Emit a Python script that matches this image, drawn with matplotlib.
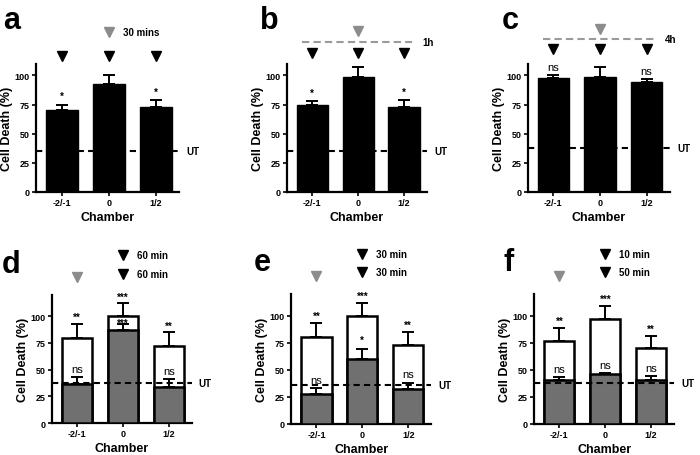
import matplotlib
matplotlib.use("Agg")
import matplotlib.pyplot as plt
import matplotlib.transforms as mtransforms
import numpy as np

plt.rcParams['font.family'] = ['Liberation Sans', 'DejaVu Sans']
plt.rcParams['font.weight'] = 'bold'

#%% DATA ---------------------------------------------------------------------
chambers = ['-2/-1', '0', '1/2']

# top row: single black bars
a_mean = [70, 93, 73]
a_err = [5, 7, 6]
b_mean = [75, 99, 73]
b_err = [3, 8, 6]
c_mean = [98, 99, 94]
c_err = [2, 8, 2.5]
ut_top = [35, 35, 38]
a_sig = ['*', '', '*']
b_sig = ['*', '', '*']
c_sig = ['ns', '', 'ns']

# bottom row: white (total) and grey (inhibited) bars
d_white = [80, 100, 72]
d_werr = [13, 12, 13]
d_gray = [37, 87, 34]
d_gerr = [6, 6, 7]
e_white = [80, 100, 73]
e_werr = [13, 12, 12]
e_gray = [28, 60, 32]
e_gerr = [5, 9, 6]
f_white = [77, 97, 70]
f_werr = [12, 12, 11]
f_gray = [41, 46, 41]
f_gerr = [2, 1, 3]
ut_bot = [38, 36, 38]
white_sig = [['**', '***', '**'], ['**', '***', '**'], ['**', '***', '**']]
gray_sig = [['ns', '***', 'ns'], ['ns', '*', 'ns'], ['ns', 'ns', 'ns']]

top_times = ['30 mins', '1h', '4h']
bot_times = [('60 min', '60 min'), ('30 min', '30 min'), ('10 min', '50 min')]

GREY_BAR = '#707070'
GREY_MARK = '#8c8c8c'
GREY_LINE = '#9a9a9a'

x = np.arange(len(chambers))
fig = plt.figure(figsize=(7, 4.56), dpi=100)

pos_top = [[0.051, 0.577, 0.205, 0.281],
           [0.410, 0.577, 0.200, 0.281],
           [0.754, 0.577, 0.203, 0.281]]
pos_bot = [[0.074, 0.070, 0.200, 0.281],
           [0.416, 0.068, 0.200, 0.285],
           [0.763, 0.068, 0.200, 0.285]]
letters_top = ['a', 'b', 'c']
letters_bot = ['d', 'e', 'f']
letter_x_top = [-0.23, -0.19, -0.18]
letter_x_bot = [-0.36, -0.27, -0.22]
gray_star_off = [-1.5, 6, 4]   # '***' in d sits inside the white bar


def style_axes(ax, ymax):
    for s in ['top', 'right']:
        ax.spines[s].set_visible(False)
    for s in ['left', 'bottom']:
        ax.spines[s].set_linewidth(1.6)
    ax.set_xlim(-0.55, 2.5)
    ax.set_ylim(0, ymax)
    ax.set_yticks([0, 25, 50, 75, 100])
    ax.set_xticks(x)
    ax.set_xticklabels(chambers)
    ax.tick_params(labelsize=6.5, width=1.2, length=3, pad=1.5)
    ax.set_ylabel('Cell Death (%)', fontsize=9, fontweight='bold', labelpad=1)
    ax.set_xlabel('Chamber', fontsize=9, fontweight='bold', labelpad=3)


def draw_ut(ax, ut):
    ax.plot([-0.55, 2.5], [ut, ut], color='k', lw=1.5, ls=(0, (3, 2)), zorder=5, clip_on=False)
    trans = mtransforms.blended_transform_factory(ax.transAxes, ax.transData)
    ax.text(1.05, ut, 'UT', transform=trans, fontsize=7, fontweight='bold', va='center', ha='left')


def ebar(ax, means, errs, z):
    ax.errorbar(x, means, yerr=[np.zeros(len(errs)), errs], fmt='none', ecolor='k',
                elinewidth=1.4, capsize=4, capthick=1.4, zorder=z)


def sig_text(ax, means, errs, labels, star_off=4, ns_off=5, z=6):
    for xi, m, e, lab in zip(x, means, errs, labels):
        if not lab:
            continue
        if lab == 'ns':
            ax.text(xi, m + e + ns_off, lab, ha='center', va='baseline', fontsize=8,
                    fontweight='normal', zorder=z)
        else:
            ax.text(xi, m + e + star_off, lab, ha='center', va='baseline', fontsize=7,
                    fontweight='bold', zorder=z)


# %% top row -------------------------------------------------------------------
top_means = [a_mean, b_mean, c_mean]
top_errs = [a_err, b_err, c_err]
top_sigs = [a_sig, b_sig, c_sig]
black_y = [117, 119, 123]

for k in range(3):
    ax = fig.add_axes(pos_top[k])
    style_axes(ax, 110)
    ax.bar(x, top_means[k], width=0.68, color='k', edgecolor='k', zorder=2)
    ebar(ax, top_means[k], top_errs[k], 1)
    sig_text(ax, top_means[k], top_errs[k], top_sigs[k], star_off=4.5, ns_off=4.5)
    draw_ut(ax, ut_top[k])
    # time markers
    ax.plot(x, [black_y[k]] * 3, ls='none', marker='v', ms=7, color='k', clip_on=False)
    if k == 0:
        ax.plot([1], [137], ls='none', marker='v', ms=7, color=GREY_MARK, clip_on=False)
        ax.text(1.3, 137, top_times[k], fontsize=7, fontweight='bold', va='center', ha='left')
    else:
        yl = 129 if k == 1 else 131
        ax.plot([-0.22, 2.18], [yl, yl], color=GREY_LINE, lw=1.5, ls=(0, (3.5, 2)), clip_on=False)
        ax.plot([1], [yl + 9], ls='none', marker='v', ms=7, color=GREY_MARK, clip_on=False)
        ax.text(2.4, yl, top_times[k], fontsize=7, fontweight='bold', va='center', ha='left')
    ax.text(letter_x_top[k], 1.46, letters_top[k], transform=ax.transAxes, fontsize=22,
            fontweight='bold', va='top', ha='left')

# %% bottom row ----------------------------------------------------------------
whites = [d_white, e_white, f_white]
werrs = [d_werr, e_werr, f_werr]
grays = [d_gray, e_gray, f_gray]
gerrs = [d_gerr, e_gerr, f_gerr]

for k in range(3):
    ax = fig.add_axes(pos_bot[k])
    style_axes(ax, 120)
    ax.bar(x, whites[k], width=0.66, color='white', edgecolor='k', linewidth=1.8, zorder=2)
    ebar(ax, whites[k], werrs[k], 1)
    ax.bar(x, grays[k], width=0.66, color=GREY_BAR, edgecolor='k', linewidth=1.8, zorder=3)
    ebar(ax, grays[k], gerrs[k], 4)
    sig_text(ax, whites[k], werrs[k], white_sig[k], star_off=3.7)
    sig_text(ax, grays[k], gerrs[k], gray_sig[k], star_off=gray_star_off[k], z=7)
    draw_ut(ax, ut_bot[k])
    ax.plot([0], [137], ls='none', marker='v', ms=7, color=GREY_MARK, clip_on=False)
    ax.plot([1, 1], [157, 140], ls='none', marker='v', ms=7, color='k', clip_on=False)
    ax.text(1.3, 157, bot_times[k][0], fontsize=7, fontweight='bold', va='center', ha='left')
    ax.text(1.3, 140, bot_times[k][1], fontsize=7, fontweight='bold', va='center', ha='left')
    ax.text(letter_x_bot[k], 1.36, letters_bot[k], transform=ax.transAxes, fontsize=22,
            fontweight='bold', va='top', ha='left')

fig.savefig('out.png', dpi=100)
